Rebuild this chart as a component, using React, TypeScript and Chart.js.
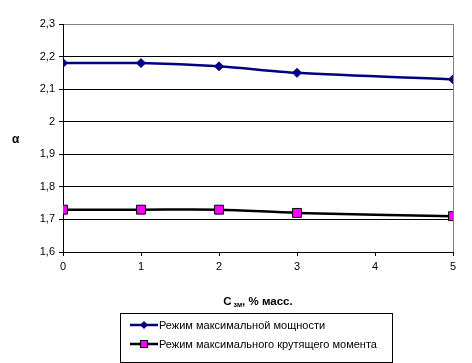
import React, { useEffect, useRef } from "react";
import { Chart, registerables } from "chart.js";

Chart.register(...registerables);

const xValues = [0, 1, 2, 3, 5];
const powerMode = [2.18, 2.18, 2.17, 2.15, 2.13];
const torqueMode = [1.73, 1.73, 1.73, 1.72, 1.71];
const seriesNames = ["Режим максимальной мощности", "Режим максимального крутящего момента"];
const yMin = 1.6;
const yMax = 2.3;
const xMin = 0;
const xMax = 5;

const fmt = (v: number) => String(Math.round(v * 10) / 10).replace(".", ",");

export default function App() {
  const ref = useRef<HTMLCanvasElement | null>(null);

  useEffect(() => {
    document.body.style.margin = "0";
    const borderPlugin = {
      id: "rightBorder",
      beforeDatasetsDraw(chart: any) {
        const { ctx, chartArea } = chart;
        ctx.save();
        ctx.strokeStyle = "#808080";
        ctx.lineWidth = 1;
        ctx.beginPath();
        ctx.moveTo(Math.round(chartArea.right) + 0.5, chartArea.top);
        ctx.lineTo(Math.round(chartArea.right) + 0.5, chartArea.bottom);
        ctx.stroke();
        ctx.restore();
      },
    };
    const chart = new Chart(ref.current as HTMLCanvasElement, {
      type: "line",
      data: {
        datasets: [
          {
            label: seriesNames[0],
            data: xValues.map((x, i) => ({ x, y: powerMode[i] })),
            borderColor: "#000080",
            backgroundColor: "#000080",
            borderWidth: 2.5,
            pointStyle: "rectRot",
            pointRadius: 4.5,
            pointBorderWidth: 1,
            pointBorderColor: "#000080",
            pointBackgroundColor: "#000080",
            tension: 0.3,
          },
          {
            label: seriesNames[1],
            data: xValues.map((x, i) => ({ x, y: torqueMode[i] })),
            borderColor: "#000000",
            backgroundColor: "#ff00ff",
            borderWidth: 2.5,
            pointStyle: "rect",
            pointRadius: 6.3,
            pointBorderWidth: 1,
            pointBorderColor: "#000000",
            pointBackgroundColor: "#ff00ff",
            tension: 0.3,
          },
        ],
      },
      options: {
        animation: false,
        responsive: false,
        layout: { padding: { top: 24, right: 19, left: 0, bottom: 0 } },
        plugins: { legend: { display: false }, tooltip: { enabled: false } },
        scales: {
          x: {
            type: "linear",
            min: xMin,
            max: xMax,
            ticks: {
              stepSize: 1,
              color: "#000",
              font: { family: "Liberation Sans, Arial", size: 11 },
              padding: 4,
              callback: (v: any) => String(v),
            },
            grid: {
              drawOnChartArea: false,
              drawTicks: true,
              tickLength: 4,
              color: "#000",
              tickColor: "#000",
            },
            border: { color: "#000", width: 1 },
            afterFit: (s: any) => {
              s.height = 111;
            },
          },
          y: {
            min: yMin,
            max: yMax,
            ticks: {
              stepSize: 0.1,
              color: "#000",
              font: { family: "Liberation Sans, Arial", size: 11 },
              padding: 4,
              callback: (v: any) => fmt(Number(v)),
            },
            grid: {
              color: (c: any) => (Math.abs(c.tick.value - yMax) < 1e-6 ? "#808080" : "#000"),
              tickColor: "#000",
              tickLength: 4,
              lineWidth: 1,
            },
            border: { color: "#000", width: 1 },
            afterFit: (s: any) => {
              s.width = 63;
            },
          },
        },
      },
      plugins: [borderPlugin],
    } as any);
    return () => chart.destroy();
  }, []);

  const legendLine = (color: string, marker: "diamond" | "square") => (
    <svg width="28" height="10" style={{ display: "block" }}>
      <line x1="0" y1="5" x2="28" y2="5" stroke={color} strokeWidth="2.5" />
      {marker === "diamond" ? (
        <polygon points="14,1 18,5 14,9 10,5" fill="#000080" />
      ) : (
        <rect x="10.5" y="1.5" width="7" height="7" fill="#ff00ff" stroke="#000" strokeWidth="1" />
      )}
    </svg>
  );

  return (
    <div style={{ position: "relative", width: 472, height: 363, fontFamily: "Liberation Sans, Arial, sans-serif", background: "#fff" }}>
      <canvas ref={ref} width={472} height={363} style={{ position: "absolute", left: 0, top: 0 }} />
      <div style={{ position: "absolute", left: 12, top: 132, fontSize: 12, fontWeight: "bold" }}>α</div>
      <div
        style={{
          position: "absolute",
          left: 0,
          width: 516,
          top: 295,
          textAlign: "center",
          fontSize: 11.5,
          fontWeight: "bold",
          whiteSpace: "nowrap",
        }}
      >
        C<span style={{ fontSize: 7, position: "relative", top: 2 }}> зм</span>, % масс.
      </div>
      <div
        style={{
          position: "absolute",
          left: 120,
          top: 313,
          width: 271,
          height: 48,
          border: "1px solid #000",
          fontSize: 11,
          boxSizing: "content-box",
        }}
      >
        <div style={{ position: "absolute", left: 9, top: 5, display: "flex", alignItems: "center", whiteSpace: "nowrap" }}>
          {legendLine("#000080", "diamond")}
          <span style={{ marginLeft: 1 }}>{seriesNames[0]}</span>
        </div>
        <div style={{ position: "absolute", left: 9, top: 24, display: "flex", alignItems: "center", whiteSpace: "nowrap" }}>
          {legendLine("#000", "square")}
          <span style={{ marginLeft: 1 }}>{seriesNames[1]}</span>
        </div>
      </div>
    </div>
  );
}
